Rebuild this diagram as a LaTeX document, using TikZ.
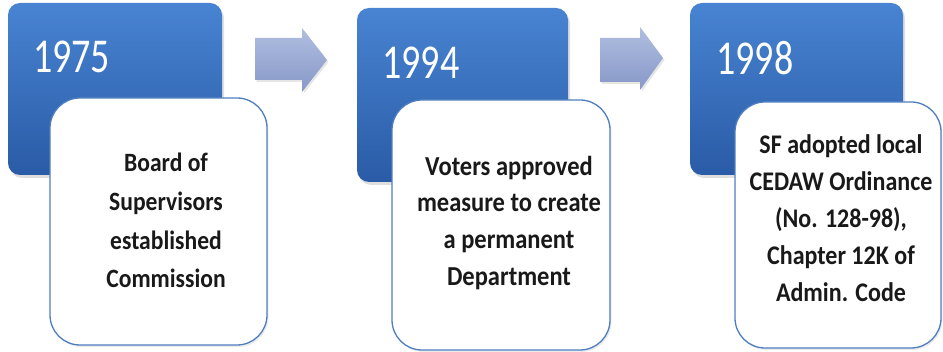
\documentclass[tikz,border=0pt]{standalone}
\usepackage{fontspec}
\usepackage{graphicx}
\setmainfont{Carlito}
\usetikzlibrary{shadows}
\definecolor{bluetop}{HTML}{4884D2}
\definecolor{bluebot}{HTML}{2A5BA6}
\definecolor{rimblue}{HTML}{4E7EC0}
\definecolor{arrtop}{HTML}{B0BEE0}
\definecolor{arrbot}{HTML}{8798C8}
\newcommand{\stretchtext}[2]{\scalebox{1}[#1]{\begin{tabular}{@{}c@{}}#2\end{tabular}}}
\begin{document}
\begin{tikzpicture}[x=1pt,y=-1pt,
  yearbox/.style={rounded corners=12pt, top color=bluetop, bottom color=bluebot, draw=none,
    inner sep=0pt, drop shadow={opacity=0.25, shadow xshift=2pt, shadow yshift=-3pt}},
  notebox/.style={rounded corners=30pt, fill=white, draw=rimblue, line width=1.3pt,
    inner sep=0pt, drop shadow={opacity=0.15, shadow xshift=1.5pt, shadow yshift=-2pt}},
  yeartext/.style={text=white, font=\fontsize{38}{40}\selectfont, inner sep=0pt, anchor=west},
  bodytext/.style={inner sep=0pt, text=black!90},
  arrowshape/.style={top color=arrtop, bottom color=arrbot, draw=none,
    drop shadow={opacity=0.2, shadow xshift=1.5pt, shadow yshift=-2pt}}
]
\useasboundingbox (0,0) rectangle (943,352);

% arrows
\path[arrowshape] (255,38) -- (302,38) -- (302,28) -- (327,60) -- (302,92) -- (302,80) -- (255,80) -- cycle;
\path[arrowshape] (600,38) -- (640,38) -- (640,27) -- (663,58) -- (640,90) -- (640,82) -- (600,82) -- cycle;

% box 1
\node[yearbox, minimum width=214pt, minimum height=172pt] (b1) at (115,89) {};
\node[yeartext] (y1) at (33,57) {\scalebox{1}[1.28]{1975}};
\node[notebox, minimum width=217pt, minimum height=247pt] (w1) at (158.5,221.5) {};
\node[bodytext, font=\fontsize{23.6}{34.5}\selectfont\bfseries] (t1) at (166,222)
  {\stretchtext{1.12}{Board of\\Supervisors\\established\\Commission}};

% box 2
\node[yearbox, minimum width=211pt, minimum height=174pt] (b2) at (462.5,95) {};
\node[yeartext] (y2) at (382,63) {\scalebox{1}[1.28]{1994}};
\node[notebox, minimum width=218pt, minimum height=250pt] (w2) at (501,225) {};
\node[bodytext, font=\fontsize{24.5}{32.8}\selectfont\bfseries] (t2) at (509,223)
  {\stretchtext{1.12}{Voters approved\\measure to create\\a permanent\\Department}};

% box 3
\node[yearbox, minimum width=213pt, minimum height=172pt] (b3) at (796.5,89) {};
\node[yeartext] (y3) at (716,58) {\scalebox{1}[1.28]{1998}};
\node[notebox, minimum width=206pt, minimum height=246pt] (w3) at (838,225) {};
\node[bodytext, font=\fontsize{24}{32.9}\selectfont\bfseries] (t3) at (841,220)
  {\stretchtext{1.12}{SF adopted local\\CEDAW Ordinance\\(No. 128-98),\\Chapter 12K of\\Admin. Code}};
\end{tikzpicture}
\end{document}
